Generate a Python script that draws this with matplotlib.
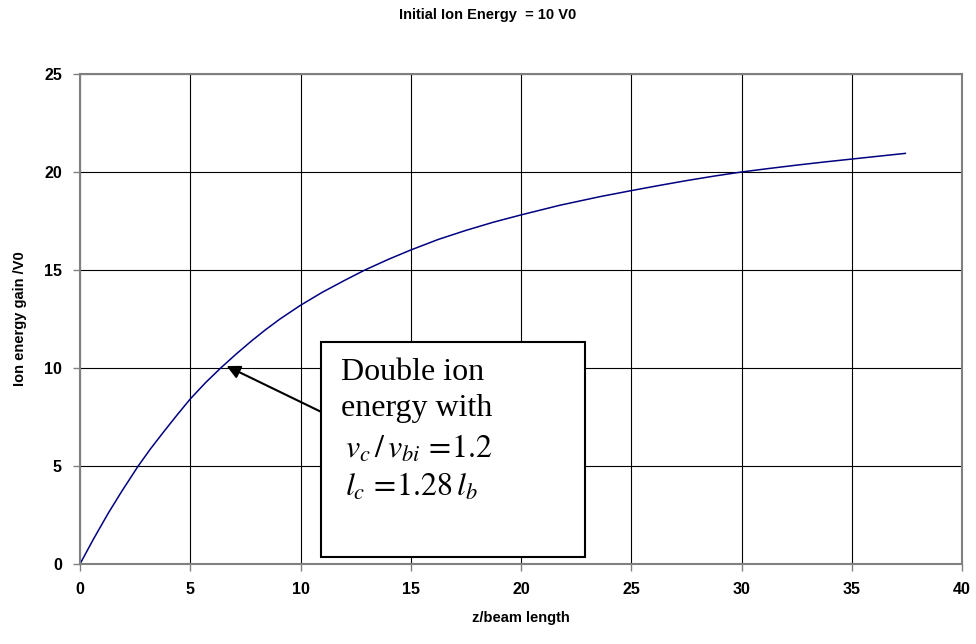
import numpy as np
import matplotlib.pyplot as plt
from matplotlib.patches import Rectangle

# Ion energy gain along the beam
z = [0, 0.6, 1.28, 1.9, 2.64, 3.2, 3.8, 4.4, 5, 5.7, 6.4, 7.1, 7.8, 8.4, 9.07,
     10, 11, 12, 12.92, 14, 15, 16.25, 17.5, 18.75, 20, 21.75, 23.57, 25,
     26.25, 27.5, 28.75, 30, 31.25, 32.5, 33.75, 35, 36.25, 37.43]
gain = [0, 1.25, 2.59, 3.72, 5.0, 5.88, 6.75, 7.6, 8.42, 9.26, 10.02, 10.73, 11.4, 11.94, 12.5,
        13.2, 13.87, 14.47, 15.0, 15.55, 16.02, 16.56, 17.02, 17.44, 17.81, 18.3, 18.74, 19.05,
        19.31, 19.56, 19.79, 20.0, 20.18, 20.35, 20.51, 20.66, 20.81, 20.95]

xticks = [0, 5, 10, 15, 20, 25, 30, 35, 40]
yticks = [0, 5, 10, 15, 20, 25]

plt.rcParams.update({
    "font.family": "sans-serif",
    "font.sans-serif": ["Liberation Sans", "DejaVu Sans"],
    "mathtext.fontset": "stix",
})

fig = plt.figure(figsize=(9.76, 6.44), dpi=100)
ax = fig.add_axes([80 / 976, 1 - 564 / 644, 882 / 976, 490 / 644])

ax.plot(z, gain, color="#000080", lw=1.1, solid_joinstyle="round")

ax.set_xlim(0, 40)
ax.set_ylim(0, 25)
ax.set_xticks(xticks)
ax.set_yticks(yticks)
ax.grid(True, color="black", lw=0.8)
ax.set_axisbelow(True)
for s in ax.spines.values():
    s.set_color("#808080")
    s.set_linewidth(1.5)
ax.tick_params(direction="out", length=5, width=1, color="#808080",
               labelsize=11.5, pad=8)
for lbl in ax.get_xticklabels() + ax.get_yticklabels():
    lbl.set_fontweight("bold")

ax.set_xlabel("z/beam length", fontsize=10.5, fontweight="bold", labelpad=10)
ax.set_ylabel("Ion energy gain /V0", fontsize=10.5, fontweight="bold", labelpad=12)
fig.text(0.5, 1 - 15 / 644, "Initial Ion Energy  = 10 V0", ha="center", va="center",
         fontsize=10.5, fontweight="bold")

# Callout box with arrow pointing at the doubling point
box = Rectangle((10.92, 0.37), 11.97, 10.97, facecolor="white", edgecolor="black",
                lw=1.5, zorder=4)
ax.add_patch(box)
ax.annotate("", xy=(6.65, 10.1), xytext=(10.92, 7.77),
            arrowprops=dict(arrowstyle="-|>", color="black", lw=1.5,
                            mutation_scale=20, shrinkA=0, shrinkB=0), zorder=5)

serif = dict(family="Liberation Serif", fontsize=23, zorder=6, va="baseline")
ax.text(11.82, 9.39, "Double ion", **serif)
ax.text(11.82, 7.55, "energy with", **serif)
ax.text(12.0, 5.41, r"$v_c\,/\,v_{bi}\,=\!1.2$", **serif)
ax.text(12.0, 3.47, r"$l_c\,=\!1.28\,l_b$", **serif)

fig.savefig("out.png", dpi=100)
